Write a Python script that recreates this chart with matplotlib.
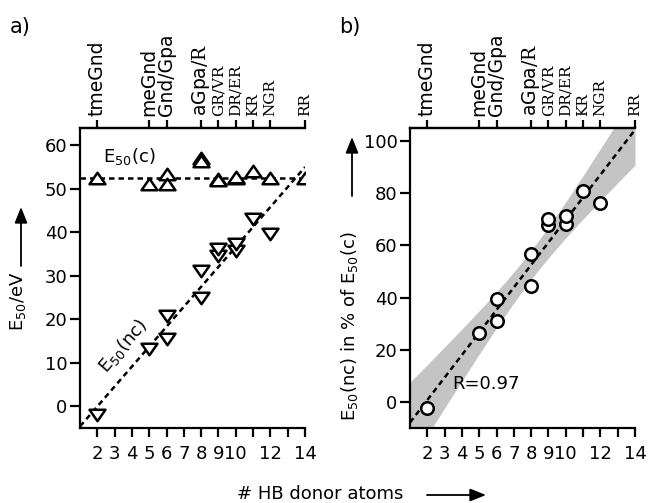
import numpy as np
import matplotlib
matplotlib.use('Agg')
import matplotlib.pyplot as plt
from matplotlib.path import Path
from matplotlib.patches import FancyArrowPatch

plt.rcParams['font.family'] = ['DejaVu Sans']
plt.rcParams['mathtext.fontset'] = 'custom'
plt.rcParams['mathtext.rm'] = 'DejaVu Serif'

# ---------------- data ----------------
x_c = [2, 5, 6, 6, 8, 8, 9, 9, 10, 10, 11, 12, 14]
e50_c = [52.6, 51.2, 53.4, 51.2, 57.0, 56.4, 52.2, 52.0, 52.4, 52.8, 54.1, 52.5, 52.4]

x_nc = [2, 5, 6, 6, 8, 8, 9, 9, 10, 10, 11, 12]
e50_nc = [-1.9, 13.2, 15.4, 20.7, 25.0, 31.1, 34.6, 36.1, 35.7, 37.3, 43.0, 39.6]
pct_nc = [-2.5, 26.4, 31.0, 39.5, 44.6, 56.8, 67.7, 70.0, 68.3, 71.3, 80.8, 76.4]

bottom_ticks = [2, 3, 4, 5, 6, 7, 8, 9, 10, 11, 12, 13, 14]
bottom_labels = ['2', '3', '4', '5', '6', '7', '8', '9', '10', '', '12', '', '14']
top_ticks = [2, 5, 6, 8, 9, 10, 11, 12, 14]
top_labels = ['tmeGnd', 'meGnd', 'Gnd/Gpa', r'aGpa/$\mathrm{R}$', 'GR/VR', 'DR/ER', 'KR', 'NGR', 'RR']
top_serif = [False, False, False, False, True, True, True, True, True]
r_value = 0.97
t99 = 3.169  # t quantile, 10 dof, 99 %

W, H = 649, 503
fig = plt.figure(figsize=(W / 100, H / 100), dpi=100)

def fx(px):
    return px / W

def fy(py):
    return 1 - py / H

axa = fig.add_axes([fx(80), fy(428), fx(305) - fx(80), fy(128) - fy(428)])
axb = fig.add_axes([fx(410), fy(428), fx(635) - fx(410), fy(128) - fy(428)])

tri_up = Path([(-1, -0.72), (1, -0.72), (0, 0.72), (-1, -0.72)],
              [Path.MOVETO, Path.LINETO, Path.LINETO, Path.CLOSEPOLY])
tri_dn = Path([(-1, 0.72), (1, 0.72), (0, -0.72), (-1, 0.72)],
              [Path.MOVETO, Path.LINETO, Path.LINETO, Path.CLOSEPOLY])

FS = 13

def style_axes(ax):
    ax.set_xlim(1, 14)
    for s in ['left', 'bottom', 'top']:
        ax.spines[s].set_linewidth(1.6)
    ax.spines['right'].set_visible(False)
    ax.set_xticks(bottom_ticks)
    ax.set_xticklabels(bottom_labels)
    ax.tick_params(axis='x', direction='out', length=6.5, width=1.6, pad=6, labelsize=FS)
    ax.tick_params(axis='y', direction='out', length=7, width=1.6, pad=2, labelsize=FS)
    sec = ax.secondary_xaxis('top')
    sec.set_xticks(top_ticks)
    sec.set_xticklabels(top_labels, rotation=90)
    sec.tick_params(direction='out', length=5.5, width=1.6, pad=3, labelsize=13.5)
    sec.spines['top'].set_linewidth(1.6)
    for lab, serif in zip(sec.get_xticklabels(), top_serif):
        if serif:
            lab.set_fontfamily('DejaVu Serif')
            lab.set_fontsize(11)
    return sec

# ---------------- panel a ----------------
style_axes(axa)
axa.set_ylim(-5, 64)
axa.set_yticks([0, 10, 20, 30, 40, 50, 60])

xs = np.array([1, 14])
c_level = np.median(e50_c)
axa.plot(xs, [c_level, c_level], color='black', lw=1.8, ls=(0, (2.2, 1.6)), zorder=1)
k_nc = np.polyfit(x_nc, e50_nc, 1)
axa.plot(xs, np.polyval(k_nc, xs), color='black', lw=1.8, ls=(0, (2.2, 1.6)), zorder=1)

axa.plot(x_c, e50_c, ls='none', marker=tri_up, ms=11.5, mfc='white', mec='black', mew=1.8, zorder=3)
axa.plot(x_nc, e50_nc, ls='none', marker=tri_dn, ms=11.5, mfc='white', mec='black', mew=1.8, zorder=3)

axa.text(2.35, 57.5, r'E$_\mathregular{50}$(c)', fontsize=FS, ha='left', va='center')
axa.text(3.5, 13.8, r'E$_\mathregular{50}$(nc)', fontsize=FS, ha='center', va='center', rotation=49)

# ---------------- panel b ----------------
style_axes(axb)
axb.set_ylim(-10, 105)
axb.set_yticks([0, 20, 40, 60, 80, 100])

xa = np.array(x_nc, float)
ya = np.array(pct_nc, float)
k_b = np.polyfit(xa, ya, 1)
xf = np.linspace(1, 14, 200)
yf = np.polyval(k_b, xf)
res = ya - np.polyval(k_b, xa)
n = len(xa)
s = np.sqrt(np.sum(res ** 2) / (n - 2))
sxx = np.sum((xa - xa.mean()) ** 2)
hw = t99 * s * np.sqrt(1 / n + (xf - xa.mean()) ** 2 / sxx)
axb.fill_between(xf, yf - hw, yf + hw, color='#c4c4c4', lw=0, zorder=0)
axb.plot(xf, yf, color='black', lw=1.8, ls=(0, (2.2, 1.6)), zorder=1)
axb.plot(x_nc, pct_nc, ls='none', marker='o', ms=9, mfc='white', mec='black', mew=1.8, zorder=3)
axb.text(3.45, 6.8, 'R=%.2f' % r_value, fontsize=FS, ha='left', va='center')

# ---------------- figure texts ----------------
fig.text(fx(20), fy(27), 'a)', fontsize=15, ha='center', va='center')
fig.text(fx(350), fy(27), 'b)', fontsize=15, ha='center', va='center')

fig.text(fx(18), fy(301), r'E$_\mathregular{50}$/eV', fontsize=FS, rotation=90, ha='center', va='center')
fig.text(fx(349), fy(326), r'E$_\mathregular{50}$(nc) in % of E$_\mathregular{50}$(c)', fontsize=FS,
         rotation=90, ha='center', va='center')
fig.text(fx(320), fy(494), '# HB donor atoms', fontsize=FS, ha='center', va='center')

def add_arrow(p0, p1):
    fig.add_artist(FancyArrowPatch((fx(p0[0]), fy(p0[1])), (fx(p1[0]), fy(p1[1])),
                                   transform=fig.transFigure,
                                   arrowstyle='-|>,head_length=0.8,head_width=0.32',
                                   mutation_scale=12, color='black', lw=1.3,
                                   shrinkA=0, shrinkB=0))

add_arrow((21, 266), (21, 207))
add_arrow((352, 196), (352, 137))
add_arrow((427, 495), (486, 495))

fig.savefig('out.png', dpi=100)
